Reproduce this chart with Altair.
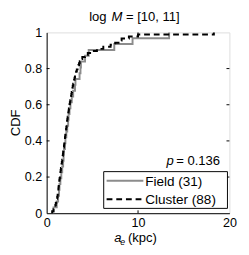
import altair as alt
import pandas as pd

field_values = [0.75, 1.1, 1.25, 1.35, 1.4, 1.5, 1.6, 1.7, 1.8, 1.85, 1.9, 2.0, 2.05,
                2.15, 2.25, 2.35, 2.4, 2.5, 2.6, 2.75, 2.9, 3.1, 3.15, 3.6, 3.7, 3.75,
                4.2, 4.6, 7.4, 9.4, 13.4]
cluster_values = [0.6, 0.75, 0.85, 0.95, 1.0, 1.05, 1.1, 1.15, 1.2,
                  1.22, 1.25, 1.28, 1.3, 1.33, 1.36, 1.38, 1.41, 1.45,
                  1.48, 1.5, 1.53, 1.56, 1.6, 1.63, 1.66, 1.7,
                  1.72, 1.75, 1.78, 1.8, 1.83, 1.86, 1.89, 1.92, 1.95,
                  1.98, 2.0, 2.03, 2.06, 2.09, 2.12, 2.15, 2.18, 2.2,
                  2.23, 2.26, 2.3, 2.33, 2.36, 2.4, 2.43, 2.46, 2.5,
                  2.54, 2.58, 2.62, 2.66, 2.7, 2.74, 2.78, 2.82, 2.85,
                  2.9, 2.95, 3.0, 3.05, 3.1, 3.15, 3.22, 3.3,
                  3.38, 3.46, 3.54, 3.62, 3.7,
                  3.9, 4.2, 4.5,
                  5.0, 5.5, 6.2,
                  7.0, 7.5,
                  8.0, 8.2,
                  9.0, 10.0,
                  18.3]
series_names = ["Field (31)", "Cluster (88)"]
series_colors = ["#8c8c8c", "#000000"]
series_dash = [[1, 0], [6, 4]]
y_ticks = [0, 0.2, 0.4, 0.6, 0.8, 1.0]
x_ticks = [0, 10, 20]
p_text = "= 0.136"

rows = []
for name, vals in zip(series_names, [field_values, cluster_values]):
    v = sorted(vals)
    n = len(v)
    rows.append({"series": name, "x": v[0], "cdf": 0.0, "o": 0})
    for i, xv in enumerate(v):
        rows.append({"series": name, "x": xv, "cdf": (i + 1) / n, "o": i + 1})
df = pd.DataFrame(rows)

W, H = 189, 187
FONT = "Liberation Sans"

xs = alt.Scale(domain=[0, 20], nice=False)
ys = alt.Scale(domain=[0, 1], nice=False)
X_AXIS = alt.Axis(values=x_ticks, title=None, tickSize=0, labelPadding=4, grid=False,
                  format="d", labelOverlap=False, labelFlush=False, labelFontSize=13,
                  labelFont=FONT, labelColor="black", domainColor="black")
Y_AXIS = alt.Axis(values=y_ticks, title="CDF", tickSize=0, labelPadding=5, grid=False,
                  format="~g", labelOverlap=False, labelFlush=False, labelFontSize=13,
                  labelFont=FONT, labelColor="black", domainColor="black",
                  titleX=-25, titleY=93, titleBaseline="bottom", titleAlign="center",
                  titleFontWeight="normal", titleFontSize=13.5, titleFont=FONT,
                  titleColor="black")

lines = alt.Chart(df).mark_line(interpolate="step-after", strokeWidth=2).encode(
    x=alt.X("x:Q", scale=xs, axis=X_AXIS),
    y=alt.Y("cdf:Q", scale=ys, axis=Y_AXIS),
    color=alt.Color("series:N", scale=alt.Scale(domain=series_names, range=series_colors),
                    legend=None),
    strokeDash=alt.StrokeDash("series:N", scale=alt.Scale(domain=series_names,
                                                          range=series_dash),
                              legend=None),
    order="o:Q",
)

ytick_df = pd.DataFrame({"v": y_ticks[1:-1]})
yt_left = alt.Chart(ytick_df).mark_rule(color="black").encode(
    y=alt.Y("v:Q", scale=ys, axis=Y_AXIS), x=alt.value(0), x2=alt.value(3))
yt_right = alt.Chart(ytick_df).mark_rule(color="black").encode(
    y=alt.Y("v:Q", scale=ys, axis=Y_AXIS), x=alt.value(W - 3), x2=alt.value(W))
xtick_df = pd.DataFrame({"v": x_ticks[1:-1]})
xt_bot = alt.Chart(xtick_df).mark_rule(color="black").encode(
    x=alt.X("v:Q", scale=xs, axis=X_AXIS), y=alt.value(H), y2=alt.value(H - 3))
xt_top = alt.Chart(xtick_df).mark_rule(color="black").encode(
    x=alt.X("v:Q", scale=xs, axis=X_AXIS), y=alt.value(0), y2=alt.value(3))

def txt(s, x, y, size=13.5, style="normal", align="left"):
    return alt.Chart(pd.DataFrame({"t": [s]})).mark_text(
        align=align, baseline="alphabetic", fontSize=size, font=FONT, fontStyle=style,
        color="black").encode(text="t:N", x=alt.value(x), y=alt.value(y))

# legend box (drawn manually)
leg_box = alt.Chart(pd.DataFrame({"a": [0]})).mark_rect(
    fill="white", stroke="black", strokeWidth=1).encode(
    x=alt.value(59), x2=alt.value(187), y=alt.value(144), y2=alt.value(182))
leg_layers = [leg_box]
for i, (name, col, dash) in enumerate(zip(series_names, series_colors, series_dash)):
    yy = 153.5 + i * 19
    leg_layers.append(alt.Chart(pd.DataFrame({"a": [0]})).mark_rule(
        color=col, strokeWidth=2, strokeDash=dash).encode(
        x=alt.value(62), x2=alt.value(100), y=alt.value(yy)))
    leg_layers.append(txt(name, 102, yy + 5, size=14))

texts = [
    txt("log", 44, -12), txt("M", 67, -12, style="italic"), txt("= [10, 11]", 82, -12),
    txt("a", 70, 217, style="italic"), txt("e", 76, 220, size=9, style="italic"),
    txt("(kpc)", 84, 217),
    txt("p", 124, 137, style="italic"), txt(p_text, 134, 137),
]

chart = alt.layer(lines, yt_left, yt_right, xt_bot, xt_top, *leg_layers, *texts).properties(
    width=W, height=H, autosize=alt.AutoSizeParams(type="none"),
    padding={"left": 40, "top": 21, "right": 12, "bottom": 40},
).configure_view(stroke="black", strokeWidth=1).configure(background="white")

chart.save("out.html", embed_options={"renderer": "svg", "actions": False})
